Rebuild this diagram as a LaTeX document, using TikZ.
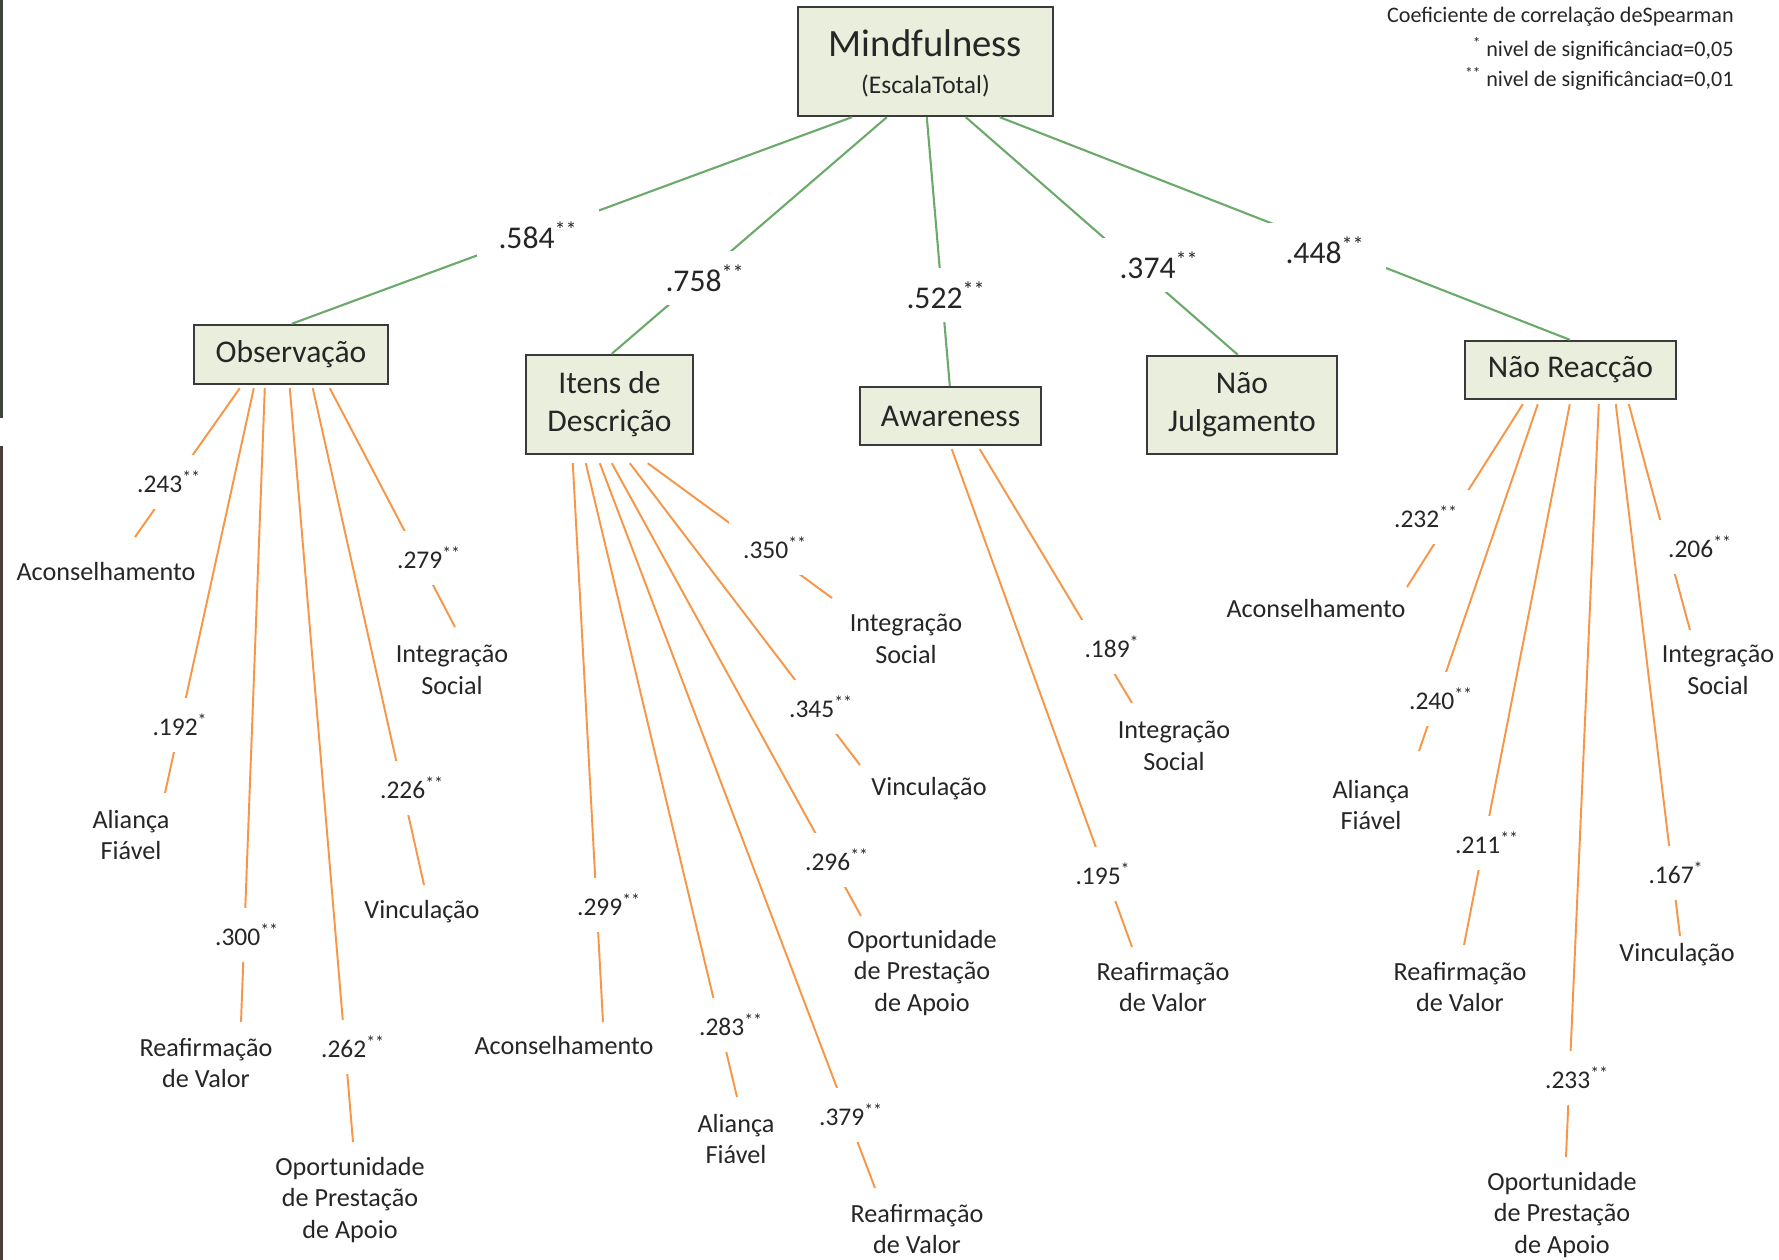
\documentclass[tikz,border=0pt]{standalone}
\usepackage{fontspec}
\setmainfont{Carlito}
\newfontfamily\alphafont{Liberation Sans}
\usetikzlibrary{calc}
\definecolor{txt}{HTML}{262626}
\definecolor{boxfill}{HTML}{EAEEDD}
\definecolor{boxline}{HTML}{3A3A3A}
\definecolor{grn}{HTML}{6BAA6B}
\definecolor{org}{HTML}{F79646}
\definecolor{barA}{HTML}{3F453C}
\definecolor{barB}{HTML}{4B3F3A}
\tikzset{
  box/.style={draw=boxline, line width=1.4pt, fill=boxfill, inner sep=0pt, align=center, text=txt, font=\fontsize{18}{21.5}\selectfont},
  topnum/.style={fill=white, inner xsep=12pt, inner ysep=0pt, minimum height=1.08cm, text=txt, font=\fontsize{18}{21}\selectfont},
  num/.style={fill=white, inner xsep=8pt, inner ysep=0pt, minimum height=1.08cm, text=txt, font=\fontsize{14.5}{18}\selectfont},
  leaf/.style={align=center, inner sep=0pt, text=txt, font=\fontsize{14.9}{18}\selectfont},
  legend/.style={anchor=east, inner sep=0pt, text=txt, font=\fontsize{12.6}{14}\selectfont},
  gl/.style={draw=grn, line width=1.2pt},
  ol/.style={draw=org, line width=1.1pt}
}
\newcommand{\sigm}[1]{\textsuperscript{#1}}
\newcommand{\alf}{{\alphafont α}}
\begin{document}
\begin{tikzpicture}[x=0.02cm, y=-0.02cm]
\useasboundingbox (0,0) rectangle (1779,1260);
\fill[white] (0,0) rectangle (1779,1260);
\fill[barA] (0,0) rectangle (3.5,418);
\fill[barB] (0,446) rectangle (3.5,1260);

% legend
\node[legend] (lg1) at (1734,17) {Coeficiente de correlação deSpearman};
\node[legend] (lg2) at (1734,49) {\sigm{*} nivel de significância\alf=0,05};
\node[legend] (lg3) at (1734,79) {\sigm{**} nivel de significância\alf=0,01};

% boxes
\node[box, minimum width=5.10cm, minimum height=2.18cm] (mind) at (925.5,61.5) {};
\node[inner sep=0pt, text=txt, font=\fontsize{22}{26}\selectfont] (mindT) at (925.5,43) {Mindfulness};
\node[inner sep=0pt, text=txt, font=\fontsize{14.5}{17}\selectfont] (mindS) at (925.5,86) {(EscalaTotal)};
\node[box, minimum width=3.88cm, minimum height=1.18cm] (obs) at (291,354.5) {Observação};
\node[box, minimum width=3.34cm, minimum height=1.98cm] (itens) at (609.5,404.5) {Itens de\\Descrição};
\node[box, minimum width=3.62cm, minimum height=1.16cm] (aware) at (950.5,416) {Awareness};
\node[box, minimum width=3.80cm, minimum height=1.96cm] (njul) at (1242,405) {Não\\Julgamento};
\node[box, minimum width=4.22cm, minimum height=1.16cm] (nreac) at (1570.5,370) {Não Reacção};

% leaves: Observacao
\node[leaf] (oA) at (106,572) {Aconselhamento};
\node[leaf] (oB) at (131,835) {Aliança\\Fiável};
\node[leaf] (oC) at (206,1063) {Reafirmação\\de Valor};
\node[leaf] (oD) at (350,1200) {Oportunidade\\de Prestação\\de Apoio};
\node[leaf] (oE) at (422,912) {Vinculação};
\node[leaf] (oF) at (452,670) {Integração\\Social};
% leaves: Itens
\node[leaf] (iA) at (564,1046) {Aconselhamento};
\node[leaf] (iB) at (736,1139) {Aliança\\Fiável};
\node[leaf] (iC) at (917,1229) {Reafirmação\\de Valor};
\node[leaf] (iD) at (922,973) {Oportunidade\\de Prestação\\de Apoio};
\node[leaf] (iE) at (929,789) {Vinculação};
\node[leaf] (iF) at (906,639) {Integração\\Social};
% leaves: Awareness
\node[leaf] (aC) at (1163,987) {Reafirmação\\de Valor};
\node[leaf] (aF) at (1174,746) {Integração\\Social};
% leaves: Nao Reaccao
\node[leaf] (rA) at (1316,609) {Aconselhamento};
\node[leaf] (rB) at (1371,805) {Aliança\\Fiável};
\node[leaf] (rC) at (1460,987) {Reafirmação\\de Valor};
\node[leaf] (rD) at (1562,1215) {Oportunidade\\de Prestação\\de Apoio};
\node[leaf] (rE) at (1677,955) {Vinculação};
\node[leaf] (rF) at (1718,670) {Integração\\Social};

% green connectors
\draw[gl] ($(mind.south west)+(55,0)$) -- ($(obs.north west)+(99,0)$);
\draw[gl] ($(mind.south west)+(90,0)$) -- ($(itens.north west)+(87,0)$);
\draw[gl] ($(mind.south west)+(130,0)$) -- ($(aware.north west)+(91,0)$);
\draw[gl] ($(mind.south west)+(169,0)$) -- ($(njul.north west)+(92,0)$);
\draw[gl] ($(mind.south west)+(203,0)$) -- ($(nreac.north west)+(106,0)$);

% orange connectors: Observacao
\draw[ol] ($(obs.south west)+(47,3)$) -- ($(oA)+(29,-35)$);
\draw[ol] ($(obs.south west)+(61,3)$) -- ($(oB)+(34,-42)$);
\draw[ol] ($(obs.south west)+(72,3)$) -- ($(oC)+(35,-41)$);
\draw[ol] ($(obs.south west)+(97,3)$) -- ($(oD)+(3,-58)$);
\draw[ol] ($(obs.south west)+(120,3)$) -- ($(oE)+(2,-27)$);
\draw[ol] ($(obs.south west)+(137,3)$) -- ($(oF)+(3,-43)$);
% Itens
\draw[ol] ($(itens.south west)+(48,8)$) -- ($(iA)+(39,-24)$);
\draw[ol] ($(itens.south west)+(61,8)$) -- ($(iB)+(1,-42)$);
\draw[ol] ($(itens.south west)+(75,8)$) -- ($(iC)+(-42,-41)$);
\draw[ol] ($(itens.south west)+(87,8)$) -- ($(iD)+(-61,-57)$);
\draw[ol] ($(itens.south west)+(105,8)$) -- ($(iE)+(-69,-24)$);
\draw[ol] ($(itens.south west)+(123,8)$) -- ($(iF)+(-74,-41)$);
% Awareness
\draw[ol] ($(aware.south west)+(93,3)$) -- ($(aC)+(-31,-40)$);
\draw[ol] ($(aware.south west)+(121,3)$) -- ($(aF)+(-42,-43)$);
% Nao Reaccao
\draw[ol] ($(nreac.south west)+(59,4)$) -- ($(rA)+(91,-22)$);
\draw[ol] ($(nreac.south west)+(74,4)$) -- ($(rB)+(48,-54)$);
\draw[ol] ($(nreac.south west)+(106,4)$) -- ($(rC)+(4,-42)$);
\draw[ol] ($(nreac.south west)+(135,4)$) -- ($(rD)+(4,-58)$);
\draw[ol] ($(nreac.south west)+(152,4)$) -- ($(rE)+(3,-19)$);
\draw[ol] ($(nreac.south west)+(165,4)$) -- ($(rF)+(-28,-40)$);

% correlation labels (white boxes over the connectors)
\node[topnum] (n584) at (538,235) {.584\sigm{**}};
\node[topnum] (n758) at (705,278) {.758\sigm{**}};
\node[topnum] (n522) at (946,295) {.522\sigm{**}};
\node[topnum] (n374) at (1159,265) {.374\sigm{**}};
\node[topnum] (n448) at (1325,250) {.448\sigm{**}};

\node[num] (o243) at (169,482) {.243\sigm{**}};
\node[num] (o192) at (180,725) {.192\sigm{*}};
\node[num] (o300) at (247,935) {.300\sigm{**}};
\node[num] (o262) at (353,1047) {.262\sigm{**}};
\node[num] (o226) at (412,788) {.226\sigm{**}};
\node[num] (o279) at (429,558) {.279\sigm{**}};

\node[num] (i299) at (609,905) {.299\sigm{**}};
\node[num] (i283) at (731,1025) {.283\sigm{**}};
\node[num] (i379) at (851,1115) {.379\sigm{**}};
\node[num] (i296) at (837,860) {.296\sigm{**}};
\node[num] (i345) at (821,707) {.345\sigm{**}};
\node[num] (i350) at (775,548) {.350\sigm{**}};

\node[num] (a195) at (1103,874) {.195\sigm{*}};
\node[num] (a189) at (1112,647) {.189\sigm{*}};

\node[num] (r232) at (1426,517) {.232\sigm{**}};
\node[num] (r240) at (1441,699) {.240\sigm{**}};
\node[num] (r211) at (1487,843) {.211\sigm{**}};
\node[num] (r233) at (1577,1078) {.233\sigm{**}};
\node[num] (r167) at (1676,873) {.167\sigm{*}};
\node[num] (r206) at (1700,547) {.206\sigm{**}};
\end{tikzpicture}
\end{document}
